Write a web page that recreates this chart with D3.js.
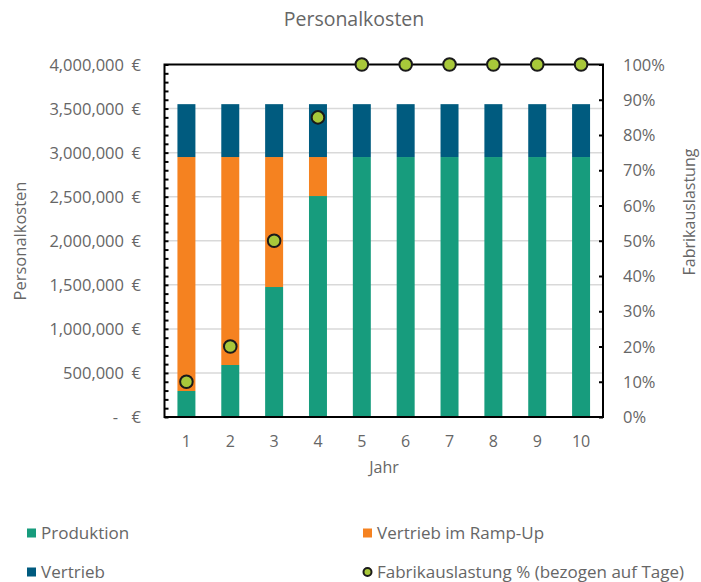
<!DOCTYPE html>
<html>
<head>
<meta charset="utf-8">
<script src="https://cdn.jsdelivr.net/npm/d3@7"></script>
<style>
  html, body { margin: 0; padding: 0; background: #fff; }
  svg text { font-family: "Open Sans", "Noto Sans", sans-serif; fill: #666; }
</style>
</head>
<body>
<svg id="chart" width="701" height="582"></svg>
<script>
// Personnel costs per year (EUR) and factory utilisation
const years = [1, 2, 3, 4, 5, 6, 7, 8, 9, 10];
const produktion = [295000, 590000, 1475000, 2507500, 2950000, 2950000, 2950000, 2950000, 2950000, 2950000];
const vertriebRampUp = [2655000, 2360000, 1475000, 442500, 0, 0, 0, 0, 0, 0];
const vertrieb = [600000, 600000, 600000, 600000, 600000, 600000, 600000, 600000, 600000, 600000];
const auslastung = [0.10, 0.20, 0.50, 0.85, 1.00, 1.00, 1.00, 1.00, 1.00, 1.00];
const leftTicks = [0, 500000, 1000000, 1500000, 2000000, 2500000, 3000000, 3500000, 4000000];
const rightTicks = [0, 0.1, 0.2, 0.3, 0.4, 0.5, 0.6, 0.7, 0.8, 0.9, 1.0];

const seriesNames = ["Produktion", "Vertrieb im Ramp-Up", "Vertrieb"];
const colors = { "Produktion": "#179c7d", "Vertrieb im Ramp-Up": "#f58220", "Vertrieb": "#005b7f" };
const dotColor = "#a8c83a";

const svg = d3.select("#chart");
const plot = { left: 164.5, right: 603, top: 64.5, bottom: 417 };

const x = d3.scaleBand().domain(years).range([plot.left, plot.right]).paddingInner(0.59).paddingOuter(0.295);
const yL = d3.scaleLinear().domain([0, 4000000]).range([plot.bottom, plot.top]);
const yR = d3.scaleLinear().domain([0, 1]).range([plot.bottom, plot.top]);

// gridlines
svg.append("g")
  .selectAll("line")
  .data(leftTicks.slice(1, -1))
  .join("line")
  .attr("x1", plot.left).attr("x2", plot.right)
  .attr("y1", d => yL(d)).attr("y2", d => yL(d))
  .attr("stroke", "#d9d9d9").attr("stroke-width", 1.5);

// stacked bars
const rows = years.map((yr, i) => ({
  year: yr,
  "Produktion": produktion[i],
  "Vertrieb im Ramp-Up": vertriebRampUp[i],
  "Vertrieb": vertrieb[i]
}));
const stacked = d3.stack().keys(seriesNames)(rows);
svg.append("g")
  .selectAll("g")
  .data(stacked)
  .join("g")
  .attr("fill", s => colors[s.key])
  .selectAll("rect")
  .data(s => s)
  .join("rect")
  .attr("x", d => x(d.data.year))
  .attr("width", x.bandwidth())
  .attr("y", d => yL(d[1]))
  .attr("height", d => yL(d[0]) - yL(d[1]));

// plot border
svg.append("rect")
  .attr("x", plot.left).attr("y", plot.top)
  .attr("width", plot.right - plot.left).attr("height", plot.bottom - plot.top)
  .attr("fill", "none").attr("stroke", "#000").attr("stroke-width", 2);

// left axis: inward ticks every 100,000
const fmt = d3.format(",");
const leftAxis = d3.axisRight(yL)
  .tickValues(d3.range(0, 4000001, 100000))
  .tickSize(4).tickFormat("");
svg.append("g").attr("transform", `translate(${plot.left},0)`).call(leftAxis)
  .call(g => g.select(".domain").remove())
  .call(g => g.selectAll("line").attr("stroke", "#000").attr("stroke-width", 2));

// left tick labels (accounting style)
const lbl = svg.append("g").attr("font-size", 16.5);
lbl.selectAll("text.num")
  .data(leftTicks)
  .join("text")
  .attr("class", "num")
  .attr("x", d => d === 0 ? 118 : 124)
  .attr("y", d => yL(d) + 6)
  .attr("text-anchor", "end")
  .text(d => d === 0 ? "-" : fmt(d));
lbl.selectAll("text.eur")
  .data(leftTicks)
  .join("text")
  .attr("class", "eur")
  .attr("x", 141)
  .attr("y", d => yL(d) + 6)
  .attr("text-anchor", "end")
  .text("€");

// right axis: inward ticks every 10 %
const rightAxis = d3.axisLeft(yR).tickValues(rightTicks).tickSize(4).tickFormat("");
svg.append("g").attr("transform", `translate(${plot.right},0)`).call(rightAxis)
  .call(g => g.select(".domain").remove())
  .call(g => g.selectAll("line").attr("stroke", "#000").attr("stroke-width", 2));
svg.append("g").attr("font-size", 16.5)
  .selectAll("text")
  .data(rightTicks)
  .join("text")
  .attr("x", 623)
  .attr("y", d => yR(d) + 6)
  .text(d => d3.format(".0%")(d));

// x labels
svg.append("g").attr("font-size", 16)
  .selectAll("text")
  .data(years)
  .join("text")
  .attr("x", d => x(d) + x.bandwidth() / 2)
  .attr("y", 447)
  .attr("text-anchor", "middle")
  .text(d => d);

// utilisation markers
svg.append("g")
  .selectAll("circle")
  .data(years.map((yr, i) => ({ year: yr, v: auslastung[i] })))
  .join("circle")
  .attr("cx", d => x(d.year) + x.bandwidth() / 2)
  .attr("cy", d => yR(d.v))
  .attr("r", 6.3)
  .attr("fill", dotColor)
  .attr("stroke", "#1a1a1a").attr("stroke-width", 2);

// titles
svg.append("text").attr("x", 354).attr("y", 26).attr("text-anchor", "middle")
  .attr("font-size", 19.5).text("Personalkosten");
svg.append("text").attr("x", 384).attr("y", 473).attr("text-anchor", "middle")
  .attr("font-size", 16).text("Jahr");
svg.append("text").attr("transform", "translate(26,241) rotate(-90)").attr("text-anchor", "middle")
  .attr("font-size", 16.5).text("Personalkosten");
svg.append("text").attr("transform", "translate(695,212) rotate(-90)").attr("text-anchor", "middle")
  .attr("font-size", 16).text("Fabrikauslastung");

// legend
const legend = [
  { name: "Produktion", type: "rect", x: 27, y: 533 },
  { name: "Vertrieb im Ramp-Up", type: "rect", x: 363, y: 533 },
  { name: "Vertrieb", type: "rect", x: 27, y: 572 },
  { name: "Fabrikauslastung % (bezogen auf Tage)", type: "dot", x: 363, y: 572 }
];
const lg = svg.append("g");
legend.forEach(l => {
  if (l.type === "rect") {
    lg.append("rect").attr("x", l.x).attr("y", l.y - 4.5).attr("width", 9).attr("height", 9)
      .attr("fill", colors[l.name]);
  } else {
    lg.append("circle").attr("cx", l.x + 4.5).attr("cy", l.y).attr("r", 4)
      .attr("fill", dotColor).attr("stroke", "#1a1a1a").attr("stroke-width", 2);
  }
  lg.append("text").attr("x", l.x + 14).attr("y", l.y + 6).attr("font-size", 17).text(l.name);
});
</script>
</body>
</html>
